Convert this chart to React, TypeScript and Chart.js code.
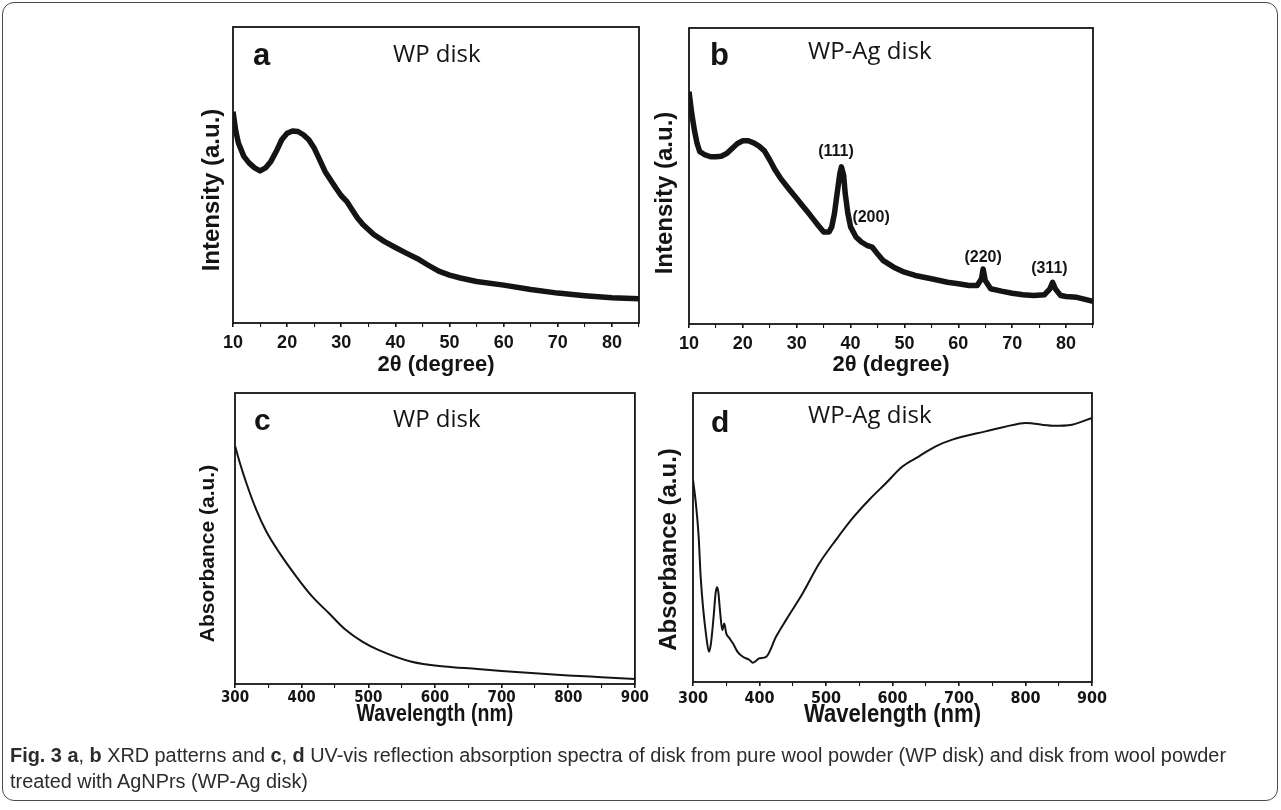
import React, { useEffect, useLayoutEffect, useRef } from "react";
import { Chart, registerables } from "chart.js";

Chart.register(...registerables);

// ---------- data ----------
// (a) XRD, WP disk
const xrdA_deg = [10, 10.5, 11, 12, 13, 14, 15, 16, 17, 18, 19, 20, 21, 22, 23, 24, 25, 26, 27, 28, 29, 30, 31, 32, 33, 34, 35, 36, 38, 40, 42, 44, 46, 48, 50, 52, 55, 60, 65, 70, 75, 80, 85];
const xrdA_int = [71.4, 65, 60.8, 56.3, 54, 52.4, 51.4, 52.4, 54.6, 58, 61.9, 64.1, 64.9, 64.7, 63.6, 61.9, 59.1, 55.2, 51.2, 48.4, 45.6, 43, 41.1, 38.3, 35.5, 33.3, 31.6, 29.9, 27.5, 25.5, 23.6, 21.8, 19.6, 17.5, 16.2, 15.2, 14, 12.8, 11.3, 10.1, 9.2, 8.5, 8.2];

// (b) XRD, WP-Ag disk
const xrdB_deg = [10, 10.5, 11, 11.5, 12, 13, 14, 15, 16, 17, 18, 19, 20, 21, 22, 23, 24, 25, 26, 27, 28, 29, 30, 31, 32, 33, 34, 35, 36, 36.5, 37, 37.5, 38, 38.3, 38.7, 39, 39.5, 40, 41, 42, 43, 44, 45, 46, 48, 50, 52, 55, 58, 60, 62, 63.5, 64.3, 64.6, 65, 66, 68, 70, 72, 74, 76, 77, 77.5, 78, 79, 80, 82, 85];
const xrdB_int = [78.5, 71.2, 65.5, 61, 58.2, 57.1, 56.5, 56.5, 56.7, 57.6, 59.3, 61, 61.9, 61.9, 61.2, 60.1, 58.5, 55.4, 52, 49.2, 46.9, 44.6, 42.4, 40.1, 37.9, 35.6, 33.3, 31.1, 31.1, 32.8, 37.3, 44.1, 50.8, 53.1, 50.3, 44.1, 37.3, 32.8, 29.4, 27.7, 26.6, 26, 23.7, 21.5, 19.2, 17.5, 16.4, 15.3, 14.1, 13.6, 13, 13, 15.3, 18.6, 14.7, 11.9, 11.1, 10.4, 9.9, 9.6, 9.9, 11.9, 14.1, 11.9, 9.6, 9.3, 9, 7.7];
const peakLabels = ["(111)", "(200)", "(220)", "(311)"];
const peakLabelDeg = [37.3, 43.8, 64.6, 76.9];
const peakLabelInt = [58.1, 36.1, 22.6, 18.6];

// (c) UV-vis, WP disk
const uvC_nm = [300, 307, 317, 332, 347, 367, 392, 416, 441, 466, 491, 515, 565, 614, 664, 700, 750, 800, 850, 900];
const uvC_abs = [82.2, 76.6, 69.6, 60.5, 53.2, 45.9, 38, 31.2, 25.6, 20, 16, 13.2, 9.2, 7.6, 6.8, 6.1, 5.3, 4.6, 4.0, 3.4];

// (d) UV-vis, WP-Ag disk
const uvD_nm = [300, 304, 308.5, 311.5, 315, 320, 324, 327, 331, 334, 336, 338, 341, 344, 347, 350, 355, 360, 367, 375, 385, 390, 400, 410, 425, 440, 465, 490, 515, 540, 565, 590, 615, 640, 665, 690, 740, 790, 800, 841, 870, 900];
const uvD_abs = [70.4, 63, 51, 37.4, 27.1, 16.9, 11.7, 14.6, 23.7, 31.7, 33.7, 32.2, 24.8, 19.1, 21.4, 18, 16.3, 14.6, 11.7, 10, 8.9, 8, 9.5, 10, 16.9, 22.6, 31.7, 41.9, 49.9, 57.3, 63.6, 69.2, 74.9, 78.4, 81.8, 84.1, 86.9, 89.5, 89.8, 88.8, 89.2, 91.5];

// axis ranges / ticks
const xrdRange = [10, 85];
const xrdMinorStep = 5;
const xrdMajorStep = 10;
const uvRange = [300, 900];
const uvMinorStep = 50;
const uvMajorStep = 100;
const xrdYRange = [0, 100];
const uvCYRange = [1.7, 100];
const uvDYRange = [1.4, 100];

const INK = "#141414";
const ARIAL = '"Liberation Sans", Arial, sans-serif';
const CONDENSED = '"Liberation Sans Narrow", "DejaVu Sans Condensed", "Liberation Sans", sans-serif';
const CALIBRI = '"Open Sans", "Noto Sans", sans-serif';

type TextItem = {
  text: string;
  font: string;
  ref: "area" | "data";
  fx?: number;
  fy?: number;
  dx?: number;
  dy?: number;
  x?: number;
  y?: number;
  rotate?: number;
  sx?: number;
  align?: CanvasTextAlign;
  baseline?: CanvasTextBaseline;
};

type PanelSpec = {
  id: string;
  left: number;
  top: number;
  width: number;
  height: number;
  pad: { left: number; top: number; right: number; bottom: number };
  axisH: number;
  xs: number[];
  ys: number[];
  range: number[];
  yRange: number[];
  minor: number;
  major: number;
  lineWidth: number;
  tension: number;
  tickFont: { family: string; size: number; weight: string };
  tickPad: number;
  texts: TextItem[];
};

const framePlugin = {
  id: "frameBox",
  afterDatasetsDraw(chart: any) {
    const { ctx, chartArea } = chart;
    ctx.save();
    ctx.strokeStyle = INK;
    ctx.lineWidth = 1.8;
    ctx.strokeRect(chartArea.left, chartArea.top, chartArea.right - chartArea.left, chartArea.bottom - chartArea.top);
    ctx.restore();
  },
};

function makeTextPlugin(items: TextItem[]) {
  return {
    id: "textItems",
    afterDraw(chart: any) {
      const { ctx, chartArea, scales } = chart;
      const w = chartArea.right - chartArea.left;
      const h = chartArea.bottom - chartArea.top;
      ctx.save();
      ctx.fillStyle = INK;
      for (const it of items) {
        let px: number;
        let py: number;
        if (it.ref === "data") {
          px = scales.x.getPixelForValue(it.x);
          py = scales.y.getPixelForValue(it.y);
        } else {
          px = chartArea.left + (it.fx || 0) * w + (it.dx || 0);
          py = chartArea.top + (it.fy || 0) * h + (it.dy || 0);
        }
        ctx.save();
        ctx.translate(px, py);
        if (it.rotate) ctx.rotate(it.rotate);
        if (it.sx) ctx.scale(it.sx, 1);
        ctx.font = it.font;
        ctx.textAlign = it.align || "left";
        ctx.textBaseline = it.baseline || "alphabetic";
        ctx.fillText(it.text, 0, 0);
        ctx.restore();
      }
      ctx.restore();
    },
  };
}

const peakTexts: TextItem[] = peakLabels.map((t, i) => ({
  text: t,
  font: `bold 16px ${ARIAL}`,
  ref: "data",
  x: peakLabelDeg[i],
  y: peakLabelInt[i],
  align: "center",
  baseline: "middle",
}));

const panels: PanelSpec[] = [
  {
    id: "a",
    left: 150, top: 10, width: 500, height: 380,
    pad: { left: 83, top: 17, right: 11, bottom: 27 },
    axisH: 40,
    xs: xrdA_deg, ys: xrdA_int,
    range: xrdRange, yRange: xrdYRange, minor: xrdMinorStep, major: xrdMajorStep,
    lineWidth: 5.5, tension: 0,
    tickFont: { family: ARIAL, size: 18, weight: "bold" }, tickPad: 5,
    texts: [
      { text: "a", font: `bold 31px ${ARIAL}`, ref: "area", dx: 20, dy: 38 },
      { text: "WP disk", font: `24px ${CALIBRI}`, ref: "area", dx: 160, dy: 35 },
      { text: "Intensity (a.u.)", font: `bold 24px ${ARIAL}`, ref: "area", fy: 0.5, dx: -21, dy: 15, rotate: -Math.PI / 2, align: "center", baseline: "middle" },
      { text: "2θ (degree)", font: `bold 22px ${ARIAL}`, ref: "area", fx: 0.5, fy: 1, dy: 42, align: "center", baseline: "middle" },
    ],
  },
  {
    id: "b",
    left: 600, top: 10, width: 510, height: 380,
    pad: { left: 89, top: 18, right: 17, bottom: 26 },
    axisH: 40,
    xs: xrdB_deg, ys: xrdB_int,
    range: xrdRange, yRange: xrdYRange, minor: xrdMinorStep, major: xrdMajorStep,
    lineWidth: 5.5, tension: 0,
    tickFont: { family: ARIAL, size: 18, weight: "bold" }, tickPad: 5,
    texts: [
      { text: "b", font: `bold 31px ${ARIAL}`, ref: "area", dx: 21, dy: 37 },
      { text: "WP-Ag disk", font: `24px ${CALIBRI}`, ref: "area", dx: 119, dy: 31 },
      { text: "Intensity (a.u.)", font: `bold 24px ${ARIAL}`, ref: "area", fy: 0.5, dx: -24, dy: 17, rotate: -Math.PI / 2, align: "center", baseline: "middle" },
      { text: "2θ (degree)", font: `bold 22px ${ARIAL}`, ref: "area", fx: 0.5, fy: 1, dy: 41, align: "center", baseline: "middle" },
      ...peakTexts,
    ],
  },
  {
    id: "c",
    left: 150, top: 380, width: 500, height: 370,
    pad: { left: 85, top: 13, right: 11, bottom: 31 },
    axisH: 35,
    xs: uvC_nm, ys: uvC_abs,
    range: uvRange, yRange: uvCYRange, minor: uvMinorStep, major: uvMajorStep,
    lineWidth: 2, tension: 0.4,
    tickFont: { family: CONDENSED, size: 15, weight: "bold" }, tickPad: 1,
    texts: [
      { text: "c", font: `bold 30px ${ARIAL}`, ref: "area", dx: 19, dy: 37 },
      { text: "WP disk", font: `24px ${CALIBRI}`, ref: "area", dx: 158, dy: 34 },
      { text: "Absorbance (a.u.)", font: `bold 21px ${ARIAL}`, ref: "area", fy: 0.5, dx: -27, dy: 15, rotate: -Math.PI / 2, align: "center", baseline: "middle" },
      { text: "Wavelength (nm)", font: `bold 23px ${ARIAL}`, ref: "area", fx: 0.5, fy: 1, dy: 31, sx: 0.85, align: "center", baseline: "middle" },
    ],
  },
  {
    id: "d",
    left: 600, top: 380, width: 510, height: 370,
    pad: { left: 93, top: 13, right: 17, bottom: 33 },
    axisH: 35,
    xs: uvD_nm, ys: uvD_abs,
    range: uvRange, yRange: uvDYRange, minor: uvMinorStep, major: uvMajorStep,
    lineWidth: 2, tension: 0.3,
    tickFont: { family: CONDENSED, size: 16, weight: "bold" }, tickPad: 3,
    texts: [
      { text: "d", font: `bold 30px ${ARIAL}`, ref: "area", dx: 18, dy: 39 },
      { text: "WP-Ag disk", font: `24px ${CALIBRI}`, ref: "area", dx: 115, dy: 30 },
      { text: "Absorbance (a.u.)", font: `bold 24px ${ARIAL}`, ref: "area", fy: 0.5, dx: -24, dy: 12, rotate: -Math.PI / 2, align: "center", baseline: "middle" },
      { text: "Wavelength (nm)", font: `bold 26px ${ARIAL}`, ref: "area", fx: 0.5, fy: 1, dy: 33, sx: 0.85, align: "center", baseline: "middle" },
    ],
  },
];

function Panel({ spec }: { spec: PanelSpec }) {
  const ref = useRef<HTMLCanvasElement>(null);
  useEffect(() => {
    const canvas = ref.current;
    if (!canvas) return;
    const chart = new Chart(canvas, {
      type: "scatter",
      data: {
        datasets: [
          {
            data: spec.xs.map((x, i) => ({ x, y: spec.ys[i] })),
            showLine: true,
            borderColor: INK,
            backgroundColor: INK,
            borderWidth: spec.lineWidth,
            pointRadius: 0,
            tension: spec.tension,
            cubicInterpolationMode: spec.tension > 0 ? "monotone" : "default",
            borderJoinStyle: "round",
            fill: false,
          } as any,
        ],
      },
      options: {
        animation: false,
        responsive: false,
        events: [],
        layout: { padding: spec.pad },
        plugins: {
          legend: { display: false },
          tooltip: { enabled: false },
        },
        scales: {
          x: {
            type: "linear",
            min: spec.range[0],
            max: spec.range[1],
            afterFit: (s: any) => {
              s.height = spec.axisH;
            },
            border: { display: false },
            grid: {
              drawOnChartArea: false,
              drawTicks: true,
              tickLength: 4,
              color: INK,
              lineWidth: (ctx: any) => (ctx.tick && ctx.tick.value % spec.major === 0 ? 1.6 : 1.1),
            },
            ticks: {
              stepSize: spec.minor,
              autoSkip: false,
              maxRotation: 0,
              minRotation: 0,
              padding: spec.tickPad,
              color: INK,
              font: spec.tickFont as any,
              callback: (v: any) => (Number(v) % spec.major === 0 ? String(v) : ""),
            },
          },
          y: { type: "linear", display: false, min: spec.yRange[0], max: spec.yRange[1] },
        },
      },
      plugins: [framePlugin, makeTextPlugin(spec.texts)],
    } as any);
    return () => chart.destroy();
  }, [spec]);
  return (
    <div style={{ position: "absolute", left: spec.left, top: spec.top, width: spec.width, height: spec.height }}>
      <canvas ref={ref} width={spec.width} height={spec.height} style={{ width: spec.width, height: spec.height, display: "block" }} />
    </div>
  );
}

const captionLead = "Fig. 3";
const captionPartA = "a";
const captionPartB = "b";
const captionXrd = " XRD patterns and ";
const captionPartC = "c";
const captionPartD = "d";
const captionRest1 = " UV-vis reflection absorption spectra of disk from pure wool powder (WP disk) and disk from wool powder";
const captionLine2 = "treated with AgNPrs (WP-Ag disk)";
const captionWidth = 1216;

export default function App() {
  const l1 = useRef<HTMLSpanElement>(null);
  const l2 = useRef<HTMLSpanElement>(null);
  useLayoutEffect(() => {
    if (!l1.current || !l2.current) return;
    const w = l1.current.getBoundingClientRect().width;
    if (w > 0) {
      const s = captionWidth / w;
      l1.current.style.transform = `scaleX(${s})`;
      l2.current.style.transform = `scaleX(${s})`;
    }
  }, []);
  const lineStyle: React.CSSProperties = {
    display: "inline-block",
    whiteSpace: "nowrap",
    transformOrigin: "0 0",
  };
  return (
    <div style={{ position: "absolute", left: 0, top: 0, width: 1281, height: 810, background: "#fff", overflow: "hidden" }}>
      <div
        style={{
          position: "absolute",
          left: 2,
          top: 2,
          width: 1274,
          height: 797,
          border: "1.5px solid #4a4a4a",
          borderRadius: 12,
        }}
      />
      {panels.map((p) => (
        <Panel key={p.id} spec={p} />
      ))}
      <div
        style={{
          position: "absolute",
          left: 10,
          top: 742,
          fontFamily: ARIAL,
          fontSize: 20,
          lineHeight: "26px",
          color: "#2c2c2c",
        }}
      >
        <div>
          <span ref={l1} style={lineStyle}>
            <b>{captionLead}</b> <b>{captionPartA}</b>, <b>{captionPartB}</b>
            {captionXrd}
            <b>{captionPartC}</b>, <b>{captionPartD}</b>
            {captionRest1}
          </span>
        </div>
        <div>
          <span ref={l2} style={lineStyle}>
            {captionLine2}
          </span>
        </div>
      </div>
    </div>
  );
}
